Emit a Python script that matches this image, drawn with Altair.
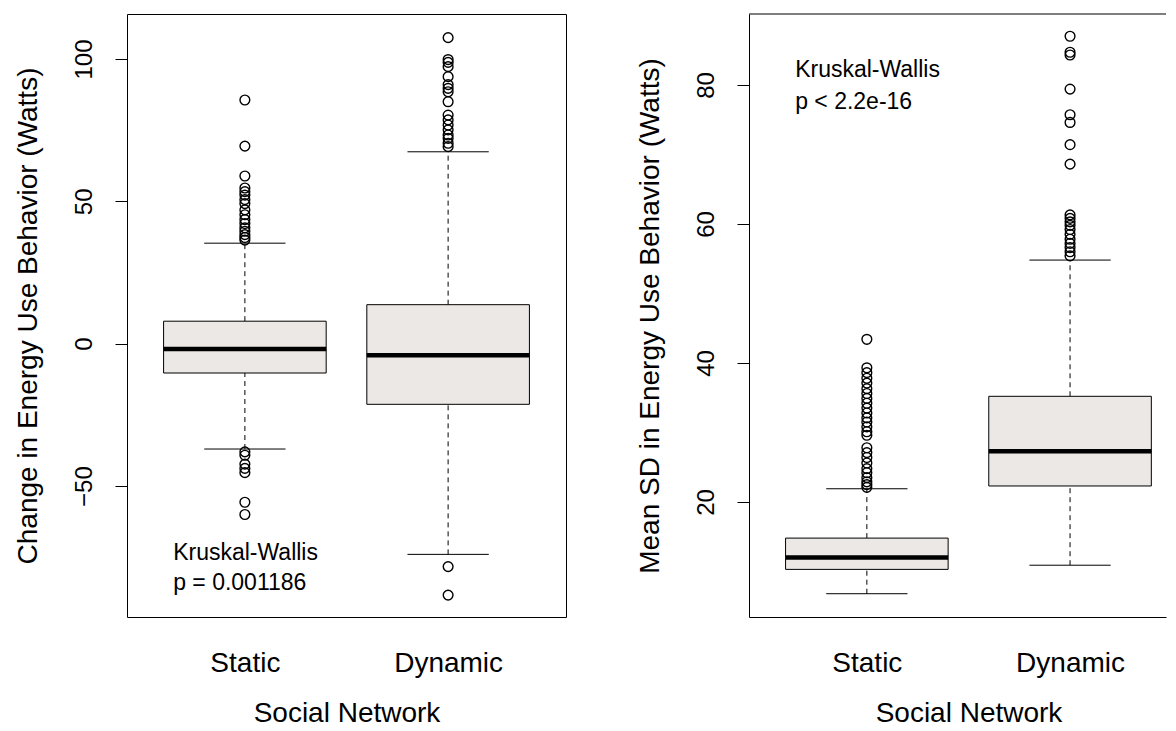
import altair as alt
import pandas as pd

FONT = "Liberation Sans"
FILL = "#ECE8E6"

# ---------------- data ----------------
groups = ["Static", "Dynamic"]
positions = [1, 2]

# Panel 1: Change in Energy Use Behavior (Watts)
chg_low_whisker = [-37.0, -74.0]
chg_q1 = [-10.3, -21.3]
chg_median = [-1.9, -4.1]
chg_q3 = [7.9, 13.7]
chg_high_whisker = [35.3, 67.4]
chg_out_static = [85.6, 69.4, 58.9, 54.7, 53.4, 52.2, 50.6, 49.2, 47.0, 45.3, 43.6, 42.2,
                  40.7, 39.5, 38.3, 37.3, 36.4, -38.0, -39.2, -42.3, -43.8, -45.3, -55.7, -60.0]
chg_out_dynamic = [107.5, 99.8, 98.8, 97.3, 93.8, 91.0, 89.7, 88.5, 85.0, 80.3, 78.6, 76.8,
                   75.1, 73.3, 72.1, 70.4, 69.2, -78.3, -88.3]

# Panel 2: Mean SD in Energy Use Behavior (Watts)
sd_low_whisker = [6.8, 10.9]
sd_q1 = [10.3, 22.3]
sd_median = [12.0, 27.3]
sd_q3 = [14.8, 35.2]
sd_high_whisker = [21.9, 54.8]
sd_out_static = [43.4, 39.3, 38.6, 37.8, 37.1, 36.3, 35.6, 34.9, 34.2, 33.5, 32.8, 32.1, 31.5,
                 30.8, 30.1, 29.6, 27.8, 27.1, 26.4, 25.6, 24.8, 24.2, 23.5, 22.9, 22.5, 22.1]
sd_out_dynamic = [87.0, 84.7, 84.3, 79.4, 75.7, 74.6, 71.4, 68.6, 61.3, 60.8, 60.3, 59.8, 59.2,
                  58.5, 57.8, 57.2, 56.6, 56.0, 55.4]

y1_ticks = [-50, 0, 50, 100]
y2_ticks = [20, 40, 60, 80]
x_title = "Social Network"
y1_title = "Change in Energy Use Behavior (Watts)"
y2_title = "Mean SD in Energy Use Behavior (Watts)"
ann1_text = ["Kruskal-Wallis", "p = 0.001186"]
ann2_text = ["Kruskal-Wallis", "p < 2.2e-16"]

# annotation anchor (data coordinates)
ann1_x, ann1_y = 0.647, [-73.5, -84.1]
ann2_x, ann2_y = 0.647, [82.2, 77.6]

# ---------------- layout ----------------
BOX_HALF = 0.4
CAP_HALF = 0.2
PLOT_H = 603
W1, W2 = 439, 417
XDOM1 = [0.42, 2.58]
XDOM2 = [0.42, 0.42 + W2 / 203.2]
YDOM1 = [-96.0, 115.8]
YDOM2 = [3.45, 90.2]

label_expr = f"datum.value == {positions[0]} ? '{groups[0]}' : '{groups[1]}'"


def stats_frame(lo, q1, med, q3, hi):
    df = pd.DataFrame({"pos": positions, "lo": lo, "q1": q1, "med": med, "q3": q3, "hi": hi})
    df["left"] = df["pos"] - BOX_HALF
    df["right"] = df["pos"] + BOX_HALF
    df["cap_l"] = df["pos"] - CAP_HALF
    df["cap_r"] = df["pos"] + CAP_HALF
    return df


def outlier_frame(a, b):
    return pd.DataFrame({"pos": [positions[0]] * len(a) + [positions[1]] * len(b), "value": a + b})


def panel(stats, outs, ann_x, ann_y, ann_text, ydom, yticks, ytitle, width, xdom, full_frame):
    xs = alt.Scale(domain=xdom, nice=False, zero=False)
    ys = alt.Scale(domain=ydom, nice=False, zero=False)
    xaxis = alt.Axis(values=positions, labelExpr=label_expr, ticks=False, tickSize=0,
                     domain=not full_frame, domainColor="black", domainWidth=1, grid=False,
                     labelFont=FONT, labelFontSize=28, labelColor="black", labelPadding=46,
                     labelBaseline="middle", labelAlign="center",
                     title=x_title, titleFont=FONT, titleFontSize=28, titleFontWeight="normal",
                     titleColor="black", titleX=219.5, titleY=96, titleBaseline="middle",
                     titleAlign="center")
    yaxis = alt.Axis(values=yticks, tickSize=12, tickColor="black", tickWidth=1,
                     domain=not full_frame, domainColor="black", domainWidth=1, grid=False,
                     labelAngle=270, labelAlign="center", labelBaseline="middle",
                     labelPadding=31, labelFont=FONT, labelFontSize=24, labelColor="black",
                     title=ytitle, titleAngle=270, titleX=-99, titleY=PLOT_H / 2,
                     titleAlign="center", titleBaseline="middle", titleFont=FONT,
                     titleFontSize=28, titleFontWeight="normal", titleColor="black")

    def X(f):
        return alt.X(f, type="quantitative", scale=xs, axis=xaxis)

    def Y(f):
        return alt.Y(f, type="quantitative", scale=ys, axis=yaxis)

    base = alt.Chart(stats)
    whisk_up = base.mark_rule(color="black", strokeWidth=1, strokeDash=[5, 4]).encode(
        x=X("pos"), y=Y("q3"), y2="hi")
    whisk_lo = base.mark_rule(color="black", strokeWidth=1, strokeDash=[5, 4]).encode(
        x=X("pos"), y=Y("lo"), y2="q1")
    cap_up = base.mark_rule(color="black", strokeWidth=1).encode(x=X("cap_l"), x2="cap_r", y=Y("hi"))
    cap_lo = base.mark_rule(color="black", strokeWidth=1).encode(x=X("cap_l"), x2="cap_r", y=Y("lo"))
    box = base.mark_rect(fill=FILL, stroke="black", strokeWidth=1).encode(
        x=X("left"), x2="right", y=Y("q1"), y2="q3")
    med = base.mark_rule(color="black", strokeWidth=4.5, strokeCap="butt").encode(
        x=X("left"), x2="right", y=Y("med"))
    pts = alt.Chart(outs).mark_point(shape="circle", filled=False, color="black", size=95,
                                     strokeWidth=1.4, opacity=1).encode(x=X("pos"), y=Y("value"))
    ann_df = pd.DataFrame({"x": [ann_x] * len(ann_text), "y": ann_y, "label": ann_text})
    ann = alt.Chart(ann_df).mark_text(align="left", baseline="middle", font=FONT, fontSize=23,
                                      color="black").encode(x=X("x"), y=Y("y"), text="label:N")
    layers = [whisk_up, whisk_lo, cap_up, cap_lo, box, med, pts, ann]
    if not full_frame:
        top = alt.Chart(pd.DataFrame({"k": [0]})).mark_rule(color="black", strokeWidth=1).encode(
            x=alt.value(0), x2=alt.value(width), y=alt.value(0))
        layers.append(top)
    return alt.layer(*layers).properties(
        width=width, height=PLOT_H,
        view=alt.ViewBackground(stroke="black" if full_frame else "transparent", strokeWidth=1,
                                fill="white"))


left = panel(stats_frame(chg_low_whisker, chg_q1, chg_median, chg_q3, chg_high_whisker),
             outlier_frame(chg_out_static, chg_out_dynamic), ann1_x, ann1_y, ann1_text,
             YDOM1, y1_ticks, y1_title, W1, XDOM1, True)
right = panel(stats_frame(sd_low_whisker, sd_q1, sd_median, sd_q3, sd_high_whisker),
              outlier_frame(sd_out_static, sd_out_dynamic), ann2_x, ann2_y, ann2_text,
              YDOM2, y2_ticks, y2_title, W2, XDOM2, False)

chart = alt.hconcat(left, right, spacing=183, bounds="flush").properties(
    autosize=alt.AutoSizeParams(type="none"),
    padding={"left": 119, "top": 6, "right": 1041, "bottom": 709}, background="white")

chart.save("out.html", embed_options={"renderer": "svg", "actions": False})
